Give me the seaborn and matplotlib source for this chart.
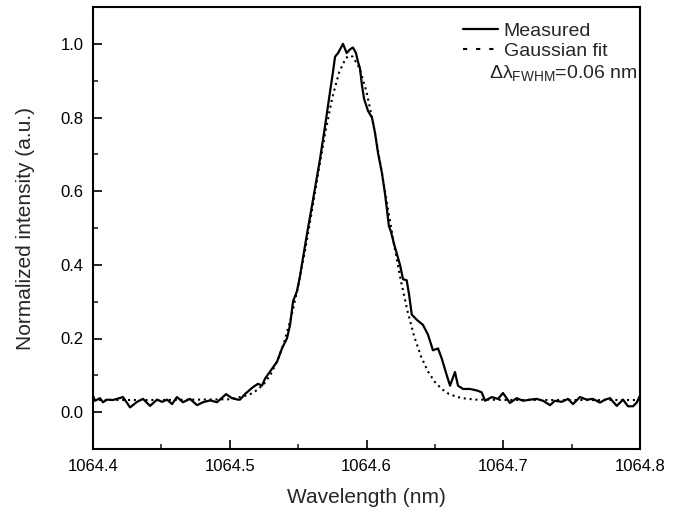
import matplotlib
matplotlib.use("Agg")
import matplotlib.pyplot as plt
import seaborn as sns
import pandas as pd
from matplotlib.lines import Line2D

# Measured spectrum (wavelength nm, normalized intensity)
meas_x = [1064.4000, 1064.4015, 1064.4051, 1064.4073, 1064.4102, 1064.4146, 1064.4219, 1064.4271,
          1064.4322, 1064.4366, 1064.4417, 1064.4468, 1064.4505, 1064.4541, 1064.4578, 1064.4614,
          1064.4658, 1064.4709, 1064.4761, 1064.4804, 1064.4856, 1064.4907, 1064.4973, 1064.5016,
          1064.5060, 1064.5075, 1064.5111, 1064.5148, 1064.5170, 1064.5207, 1064.5236, 1064.5258,
          1064.5294, 1064.5346, 1064.5382, 1064.5419, 1064.5441, 1064.5463, 1064.5492, 1064.5514,
          1064.5536, 1064.5565, 1064.5609, 1064.5660, 1064.5697, 1064.5733, 1064.5755, 1064.5770,
          1064.5792, 1064.5814, 1064.5828, 1064.5855, 1064.5879, 1064.5901, 1064.5923, 1064.5938,
          1064.5952, 1064.5967, 1064.5982, 1064.6011, 1064.6040, 1064.6062, 1064.6084, 1064.6113,
          1064.6135, 1064.6150, 1064.6164, 1064.6179, 1064.6201, 1064.6223, 1064.6245, 1064.6267,
          1064.6294, 1064.6311, 1064.6331, 1064.6367, 1064.6413, 1064.6450, 1064.6486, 1064.6523,
          1064.6550, 1064.6587, 1064.6611, 1064.6647, 1064.6669, 1064.6706, 1064.6757, 1064.6806,
          1064.6842, 1064.6867, 1064.6916, 1064.6962, 1064.6998, 1064.7049, 1064.7098, 1064.7144,
          1064.7196, 1064.7244, 1064.7291, 1064.7342, 1064.7378, 1064.7427, 1064.7474, 1064.7510,
          1064.7561, 1064.7610, 1064.7656, 1064.7707, 1064.7744, 1064.7781, 1064.7830, 1064.7876,
          1064.7912, 1064.7949, 1064.7976, 1064.8000]
meas_y = [0.044, 0.031, 0.038, 0.027, 0.034, 0.033, 0.041, 0.013,
          0.028, 0.036, 0.017, 0.034, 0.028, 0.034, 0.022, 0.041,
          0.027, 0.036, 0.019, 0.027, 0.032, 0.027, 0.049, 0.038,
          0.034, 0.034, 0.049, 0.061, 0.068, 0.077, 0.072, 0.091,
          0.110, 0.137, 0.173, 0.201, 0.237, 0.301, 0.329, 0.370,
          0.420, 0.484, 0.577, 0.687, 0.777, 0.869, 0.924, 0.965,
          0.975, 0.990, 1.000, 0.975, 0.985, 0.990, 0.975, 0.951,
          0.934, 0.887, 0.851, 0.818, 0.800, 0.759, 0.704, 0.649,
          0.594, 0.549, 0.505, 0.490, 0.457, 0.429, 0.400, 0.361,
          0.358, 0.320, 0.265, 0.251, 0.237, 0.210, 0.168, 0.173,
          0.146, 0.100, 0.072, 0.109, 0.072, 0.063, 0.063, 0.059,
          0.054, 0.031, 0.041, 0.036, 0.052, 0.025, 0.038, 0.031,
          0.034, 0.036, 0.031, 0.019, 0.031, 0.028, 0.036, 0.022,
          0.041, 0.034, 0.036, 0.026, 0.034, 0.038, 0.017, 0.034,
          0.016, 0.016, 0.026, 0.045]

# Gaussian fit curve
fit_x = [1064.400, 1064.450, 1064.500, 1064.510, 1064.515, 1064.520, 1064.525, 1064.530,
         1064.535, 1064.540, 1064.545, 1064.550, 1064.555, 1064.560, 1064.565, 1064.570,
         1064.575, 1064.580, 1064.585, 1064.588, 1064.590, 1064.595, 1064.600, 1064.605,
         1064.610, 1064.615, 1064.620, 1064.625, 1064.630, 1064.635, 1064.640, 1064.645,
         1064.650, 1064.655, 1064.660, 1064.665, 1064.670, 1064.675, 1064.680, 1064.690,
         1064.700, 1064.750, 1064.800]
fit_y = [0.033, 0.033, 0.035, 0.043, 0.049, 0.060, 0.077, 0.103,
         0.141, 0.192, 0.259, 0.341, 0.438, 0.544, 0.656, 0.762,
         0.854, 0.923, 0.962, 0.968, 0.965, 0.933, 0.870, 0.782,
         0.677, 0.567, 0.458, 0.359, 0.274, 0.204, 0.150, 0.110,
         0.082, 0.063, 0.050, 0.043, 0.038, 0.036, 0.034, 0.034,
         0.033, 0.033, 0.033]

legend_labels = ["Measured", "Gaussian fit"]
fwhm_text = "Δλ$_{\\mathrm{FWHM}}$=0.06 nm"
x_ticks = [1064.4, 1064.5, 1064.6, 1064.7, 1064.8]
y_ticks = [0.0, 0.2, 0.4, 0.6, 0.8, 1.0]

sns.set_style("ticks")
plt.rcParams['font.family'] = ['Liberation Sans', 'DejaVu Sans']
plt.rcParams['mathtext.fontset'] = 'custom'
plt.rcParams['mathtext.rm'] = 'Liberation Sans'
plt.rcParams['mathtext.it'] = 'Liberation Sans'

fig = plt.figure(figsize=(6.81, 5.12), dpi=100)
ax = fig.add_axes([93/681, 63/512, (640-93)/681, (449-7)/512])

df_m = pd.DataFrame({"x": meas_x, "y": meas_y})
df_f = pd.DataFrame({"x": fit_x, "y": fit_y})
sns.lineplot(data=df_m, x="x", y="y", ax=ax, color="black", lw=1.6, sort=False)
sns.lineplot(data=df_f, x="x", y="y", ax=ax, color="black", lw=1.5, sort=False,
             linestyle=(0, (1, 1.8)))

ax.set_xlim(1064.4, 1064.8)
ax.set_ylim(-0.1, 1.1)
ax.set_xticks(x_ticks)
ax.set_xticklabels([f"{v:.1f}" for v in x_ticks])
ax.set_yticks(y_ticks)
ax.set_yticklabels([f"{v:.1f}" for v in y_ticks])
ax.set_xticks([1064.45, 1064.55, 1064.65, 1064.75], minor=True)
ax.set_yticks([0.1, 0.3, 0.5, 0.7, 0.9], minor=True)
ax.tick_params(which="major", direction="in", length=6.5, width=1.2, labelsize=12, pad=7,
               colors="black")
ax.tick_params(which="minor", direction="in", length=3.5, width=1.2)
for s in ax.spines.values():
    s.set_linewidth(1.5)
    s.set_color("black")

ax.set_xlabel("Wavelength (nm)", fontsize=15, labelpad=10)
ax.set_ylabel("Normalized intensity (a.u.)", fontsize=15, labelpad=18)

handles = [Line2D([], [], color="black", lw=1.6),
           Line2D([], [], color="black", lw=1.5, linestyle=(0, (2, 4.3)))]
ax.legend(handles, legend_labels, loc="upper right", bbox_to_anchor=(0.94, 0.966),
          frameon=False, fontsize=14, handlelength=1.8, handletextpad=0.3,
          labelspacing=0.15, borderpad=0, borderaxespad=0)
ax.text(0.996, 0.851, fwhm_text, transform=ax.transAxes, ha="right", va="center",
        fontsize=14)

fig.savefig("out.png", dpi=100)
